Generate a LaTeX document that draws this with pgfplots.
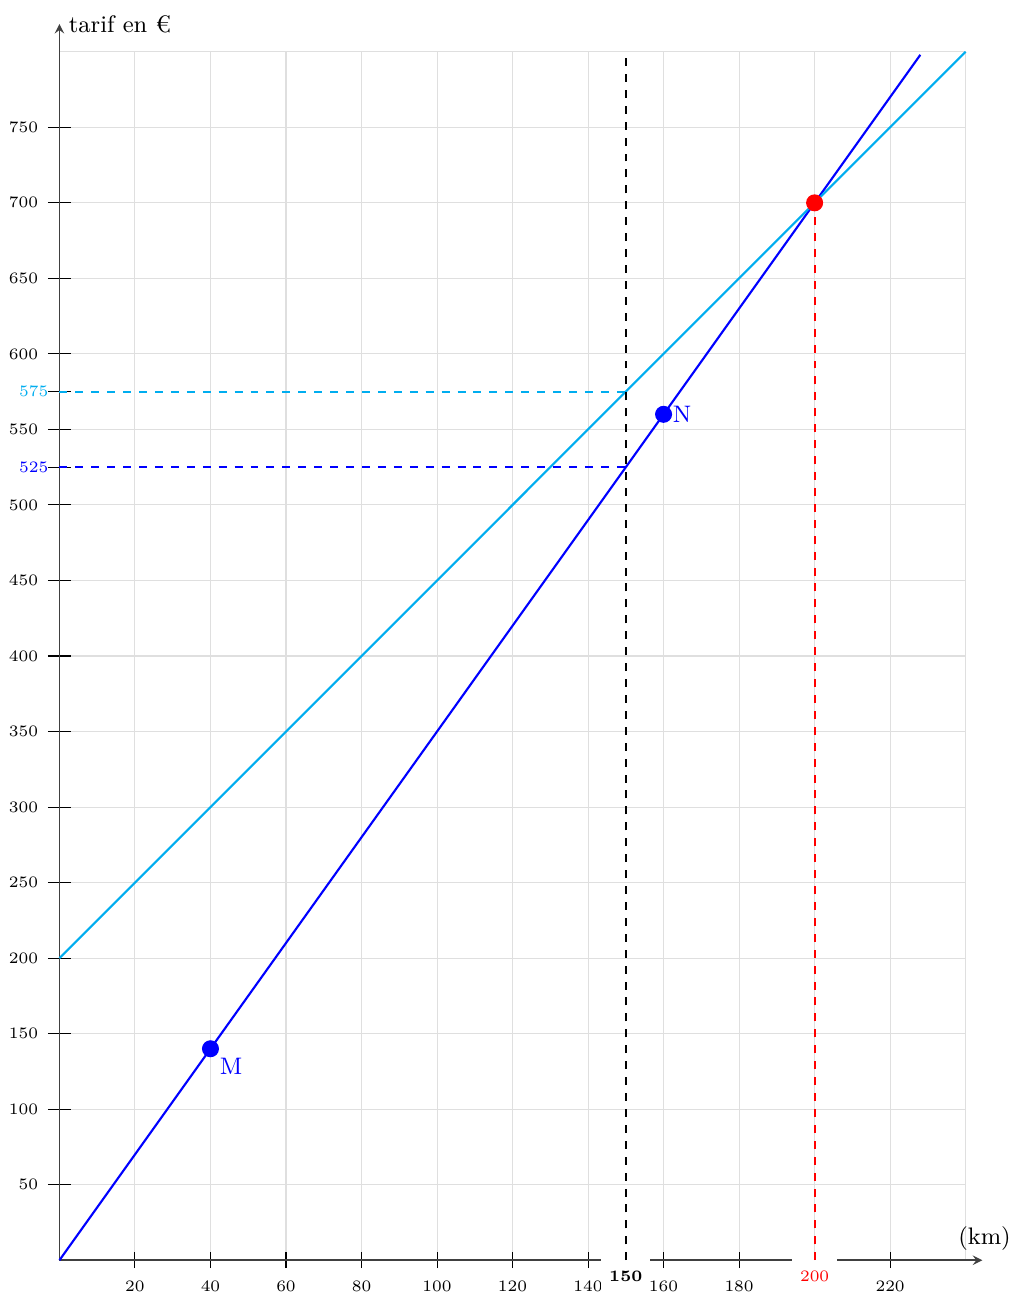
\documentclass[border=0pt]{standalone}
\usepackage{pgfplots}
\pgfplotsset{compat=1.18}
\pgfplotsset{
  layers/labels on top/.define layer set={
    axis background,axis grid,axis ticks,axis lines,main,axis tick labels,axis descriptions,axis foreground
  }{},
}
\begin{document}
\begin{tikzpicture}
\begin{axis}[
  set layers=labels on top,
  x=0.05cm, y=0.02cm,
  xmin=0, xmax=240, ymin=0, ymax=800,
  axis lines=middle,
  axis line style={black!75, line width=0.6pt, -stealth},
  x axis line style={shorten >=-6.3pt},
  y axis line style={shorten >=-10.5pt},
  xtick={20,40,...,180,220},
  ytick={50,100,...,750},
  minor xtick={200,240}, minor ytick={800},
  grid=both,
  major grid style={gray!25, line width=0.4pt},
  minor grid style={gray!25, line width=0.4pt},
  minor tick length=0pt,
  tick align=center,
  tick style={black, line width=0.4pt},
  xtick style={/pgfplots/major tick length=6pt},
  ytick style={/pgfplots/major tick length=8.7pt},
  tick label style={font=\fontsize{6}{7}\selectfont},
  xticklabel style={inner ysep=1.5pt, yshift=-3.9pt},
  yticklabel style={xshift=-2.4pt},
  extra x ticks={150,200},
  extra x tick labels={\textbf{150},\textcolor{red}{200}},
  extra y ticks={525,575},
  extra y tick labels={\textcolor{blue}{525},\textcolor{cyan}{575}},
  extra tick style={grid=none, /pgfplots/major tick length=0pt},
  extra x tick style={xticklabel style={overlay, fill=white, inner xsep=3pt, inner ysep=4.5pt, yshift=4.4pt}},
  extra y tick style={yticklabel style={inner sep=4pt, xshift=2.4pt}},
  clip=false,
]
% droites
\addplot[blue, line width=0.8pt] coordinates {(0,0) (228,798)};
\addplot[cyan, line width=0.8pt] coordinates {(0,200) (240,800)};
% pointilles
\addplot[black, dashed, line width=0.8pt] coordinates {(150,0) (150,800)};
\addplot[cyan, dashed, line width=0.8pt] coordinates {(0,575) (150,575)};
\addplot[blue, dashed, line width=0.8pt] coordinates {(0,525) (150,525)};
\addplot[red, dashed, line width=0.8pt] coordinates {(200,0) (200,700)};
% points
\addplot[only marks, mark=*, mark size=3pt, blue, nodes near coords, point meta=explicit symbolic,
  nodes near coords style={anchor=north west, font=\small, text=blue}] coordinates {(40,140) [M]};
\addplot[only marks, mark=*, mark size=3pt, blue, nodes near coords, point meta=explicit symbolic,
  nodes near coords style={anchor=west, font=\small, text=blue}] coordinates {(160,560) [N]};
\addplot[only marks, mark=*, mark size=3pt, red] coordinates {(200,700)};
\node[right, font=\small, inner ysep=6pt] at (axis cs:0,818) {tarif en €};
\node[above, font=\small] at (axis cs:245,0) {(km)};
\end{axis}
\end{tikzpicture}
\end{document}
